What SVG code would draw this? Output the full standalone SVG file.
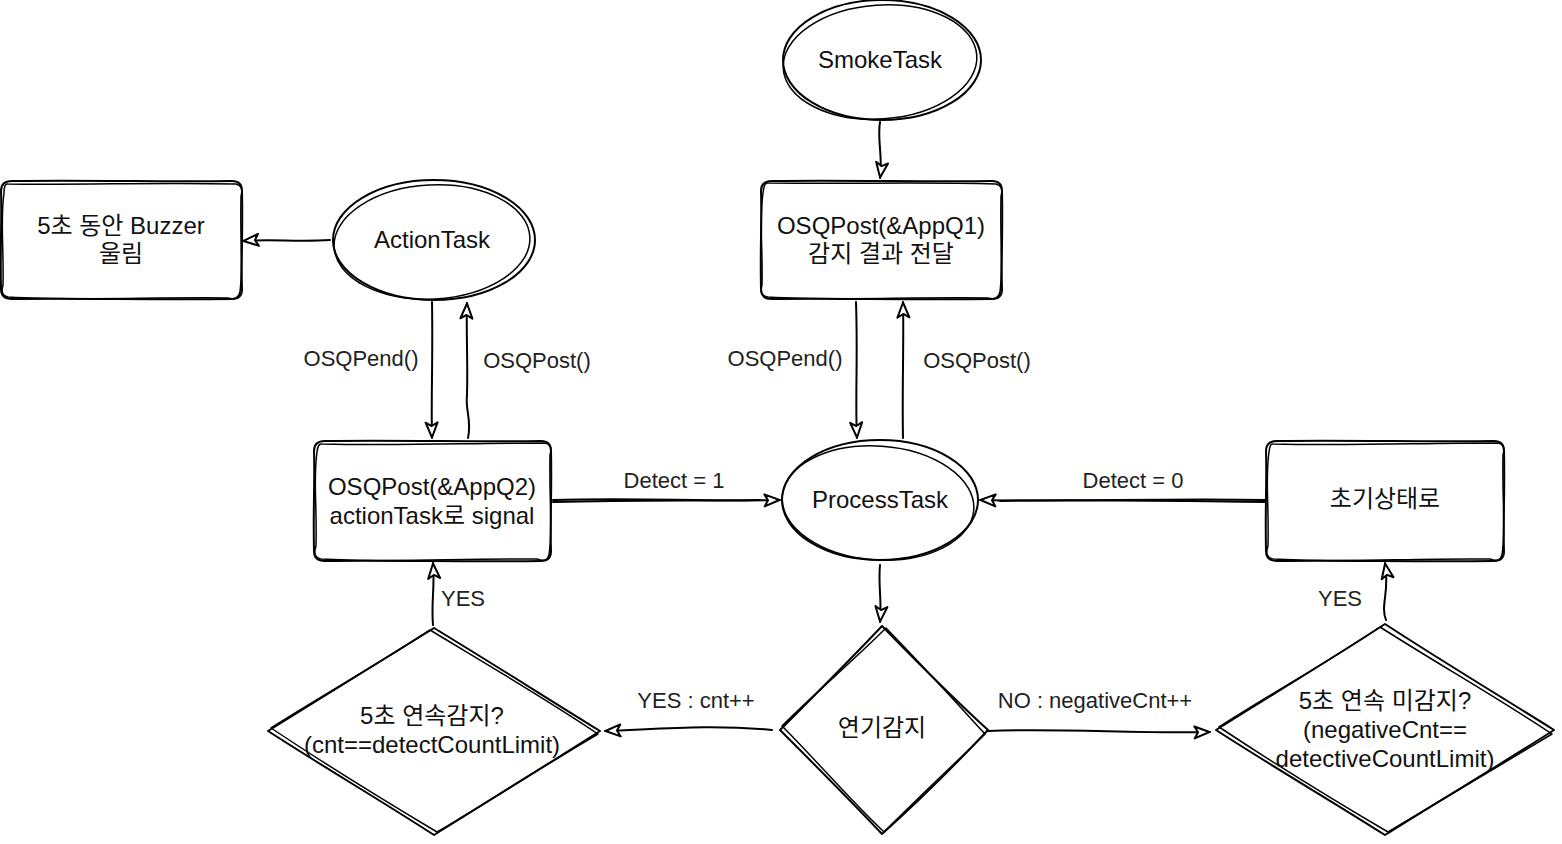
<svg xmlns="http://www.w3.org/2000/svg" width="1562" height="844" viewBox="0 0 1562 844">
<defs>
<style>
.s{fill:none;stroke:#000;stroke-width:2;stroke-linejoin:round;stroke-linecap:round}
.s2{fill:none;stroke:#000;stroke-width:1.5;stroke-linejoin:round;stroke-linecap:round}
.bg{fill:#fff;stroke:none}
.e{fill:none;stroke:#000;stroke-width:2;stroke-linecap:round}
.t{font-family:"Liberation Sans","Noto Sans CJK KR",sans-serif;font-size:24px;fill:#111;text-anchor:middle}
.l{font-family:"Liberation Sans","Noto Sans CJK KR",sans-serif;font-size:22px;fill:#222;text-anchor:middle}
</style>
<marker id="arr" viewBox="0 0 18 16" refX="17" refY="8" markerWidth="18" markerHeight="16" markerUnits="userSpaceOnUse" orient="auto">
<path d="M1.5,2 L16.5,8 L1.5,14 L5,8 Z" fill="#fff" stroke="#000" stroke-width="2" stroke-linejoin="round"/>
</marker>
</defs>
<rect width="1562" height="844" fill="#fff"/>

<g id="connectors">
<path class="e" d="M880,122 C877,140 883,156 880,178" marker-end="url(#arr)"/>
<path class="e" d="M856,302 C858,360 855,400 857,438" marker-end="url(#arr)"/>
<path class="e" d="M903,438 C902,390 904,340 903,302" marker-end="url(#arr)"/>
<path class="e" d="M880,565 C878,585 882,600 880,622" marker-end="url(#arr)"/>
<path class="e" d="M772,730 C710,724 660,729 605,731" marker-end="url(#arr)"/>
<path class="e" d="M433,625 C431,600 435,590 433,563" marker-end="url(#arr)"/>
<path class="e" d="M553,500 C640,497 700,502 780,500" marker-end="url(#arr)"/>
<path class="e" d="M553,502 C640,500 700,501 760,500"/>
<path class="e" d="M468,438 C472,420 465,410 467,395 C468,360 466,330 467,303" marker-end="url(#arr)"/>
<path class="e" d="M432,302 C433,360 431,400 432,438" marker-end="url(#arr)"/>
<path class="e" d="M330,240 C300,242 270,239 243,241" marker-end="url(#arr)"/>
<path class="e" d="M988,731 C1060,728 1140,734 1210,732" marker-end="url(#arr)"/>
<path class="e" d="M1386,620 C1380,605 1390,592 1385,563" marker-end="url(#arr)"/>
<path class="e" d="M1265,500 C1170,498 1060,502 980,500" marker-end="url(#arr)"/>
<path class="e" d="M1265,502 C1170,501 1060,499 1000,501"/>
<text class="l" x="361" y="366">OSQPend()</text>
<text class="l" x="537" y="368">OSQPost()</text>
<text class="l" x="785" y="366">OSQPend()</text>
<text class="l" x="977" y="368">OSQPost()</text>
<text class="l" x="674" y="488">Detect = 1</text>
<text class="l" x="1133" y="488">Detect = 0</text>
<text class="l" x="463" y="606">YES</text>
<text class="l" x="1340" y="606">YES</text>
<text class="l" x="696" y="708">YES : cnt++</text>
<text class="l" x="1095" y="708">NO : negativeCnt++</text>
</g>

<g id="smoketask">
<ellipse class="bg" cx="882" cy="60" rx="99" ry="60"/>
<ellipse class="s" cx="882" cy="60" rx="99" ry="60"/>
<ellipse class="s2" cx="880" cy="62" rx="97" ry="57" transform="rotate(-4 880 62)"/>
<text class="t" x="880" y="68">SmokeTask</text>
</g>

<g id="box-appq1">
<path class="bg" d="M772,181 L992,181 Q1002,181 1002,191 L1002,289 Q1002,299 992,299 L772,299 Q761,299 761,289 L761,191 Q761,181 772,181 Z"/>
<path class="s" d="M772,181 C850,180 930,182 992,181 Q1002,181 1002,191 C1003,230 1001,260 1002,289 Q1002,299 992,299 C900,300 840,298 772,299 Q761,299 761,289 C760,250 762,220 761,191 Q761,181 772,181 Z"/>
<path class="s2" d="M768,183 C860,184 920,182 996,184 Q1004,186 1001,196 C1000,240 1003,270 1000,292 Q998,301 988,298 C900,297 840,301 768,297 Q759,296 762,285 C763,250 759,220 763,193 Q764,182 768,183 Z"/>
<text class="t" x="881" y="234" fill="#333">OSQPost(&amp;AppQ1)</text>
<text class="t" x="881" y="262" fill="#333">감지 결과 전달</text>
</g>

<g id="processtask">
<ellipse class="bg" cx="880" cy="500" rx="98" ry="60"/>
<ellipse class="s" cx="880" cy="500" rx="98" ry="60"/>
<ellipse class="s2" cx="878" cy="503" rx="96" ry="57" transform="rotate(4 878 503)"/>
<text class="t" x="880" y="508">ProcessTask</text>
</g>

<g id="smokedetect">
<path class="bg" d="M882,626 L988,730 L882,834 L780,730 Z"/>
<path class="s" d="M882,626 C920,665 955,700 988,730 C955,765 920,800 882,834 C850,800 815,765 780,730 C815,695 850,660 882,626 Z"/>
<path class="s2" d="M886,628 C925,668 952,698 985,734 C950,768 918,798 884,832 C848,798 818,762 782,726 C818,690 852,662 886,628 Z"/>
<text class="t" x="882" y="736">연기감지</text>
</g>

<g id="detect5s">
<path class="bg" d="M434,628 L600,731 L434,835 L268,731 Z"/>
<path class="s" d="M434,628 C490,662 545,697 600,731 C545,766 490,800 434,835 C380,800 322,766 268,731 C322,697 380,662 434,628 Z"/>
<path class="s2" d="M430,630 C488,665 548,700 598,734 C540,768 488,802 437,832 C380,798 325,764 271,728 C325,694 378,664 430,630 Z"/>
<text class="t" x="432" y="724">5초 연속감지?</text>
<text class="t" x="432" y="753">(cnt==detectCountLimit)</text>
</g>

<g id="box-appq2">
<path class="bg" d="M325,441 L541,441 Q551,441 551,451 L551,551 Q551,561 541,561 L325,561 Q314,561 314,551 L314,451 Q314,441 325,441 Z"/>
<path class="s" d="M325,441 C400,440 480,442 541,441 Q551,441 551,451 C552,490 550,520 551,551 Q551,561 541,561 C460,562 390,560 325,561 Q314,561 314,551 C313,510 315,480 314,451 Q314,441 325,441 Z"/>
<path class="s2" d="M322,444 C400,446 470,443 545,443 Q553,444 550,455 C549,500 553,530 549,555 Q547,563 537,559 C460,558 390,563 321,559 Q312,557 316,546 C317,500 313,480 317,452 Q318,443 322,444 Z"/>
<text class="t" x="432" y="495">OSQPost(&amp;AppQ2)</text>
<text class="t" x="432" y="524">actionTask로 signal</text>
</g>

<g id="actiontask">
<ellipse class="bg" cx="434" cy="240" rx="101" ry="60"/>
<ellipse class="s" cx="434" cy="240" rx="101" ry="60"/>
<ellipse class="s2" cx="432" cy="242" rx="98" ry="57" transform="rotate(-3 432 242)"/>
<text class="t" x="432" y="248">ActionTask</text>
</g>

<g id="buzzer">
<path class="bg" d="M12,181 L232,181 Q242,181 242,191 L242,289 Q242,299 232,299 L12,299 Q1,299 1,289 L1,191 Q1,181 12,181 Z"/>
<path class="s" d="M12,181 C90,180 170,182 232,181 Q242,181 242,191 C243,230 241,260 242,289 Q242,299 232,299 C150,300 80,298 12,299 Q1,299 1,289 C0,250 2,220 1,191 Q1,181 12,181 Z"/>
<path class="s2" d="M8,184 C90,185 160,182 236,184 Q244,186 241,196 C240,240 243,270 240,292 Q238,301 228,298 C150,297 80,301 8,297 Q0,296 3,285 C4,250 0,220 4,193 Q4,183 8,184 Z"/>
<text class="t" x="121" y="234">5초 동안 Buzzer</text>
<text class="t" x="121" y="262">울림</text>
</g>

<g id="reset">
<path class="bg" d="M1277,441 L1494,441 Q1504,441 1504,451 L1504,551 Q1504,561 1494,561 L1277,561 Q1266,561 1266,551 L1266,451 Q1266,441 1277,441 Z"/>
<path class="s" d="M1277,441 C1350,440 1430,442 1494,441 Q1504,441 1504,451 C1505,490 1503,520 1504,551 Q1504,561 1494,561 C1410,562 1340,560 1277,561 Q1266,561 1266,551 C1265,510 1267,480 1266,451 Q1266,441 1277,441 Z"/>
<path class="s2" d="M1273,444 C1350,446 1420,443 1498,443 Q1506,444 1503,455 C1502,500 1506,530 1502,555 Q1500,563 1490,559 C1410,558 1340,563 1273,559 Q1264,557 1268,546 C1269,500 1265,480 1269,452 Q1270,443 1273,444 Z"/>
<text class="t" x="1385" y="507">초기상태로</text>
</g>

<g id="nodetect5s">
<path class="bg" d="M1385,624 L1554,730 L1385,835 L1216,730 Z"/>
<path class="s" d="M1385,624 C1440,660 1500,696 1554,730 C1500,765 1440,800 1385,835 C1330,800 1270,765 1216,730 C1270,696 1330,660 1385,624 Z"/>
<path class="s2" d="M1380,627 C1438,664 1498,698 1552,734 C1496,768 1438,802 1388,832 C1330,798 1272,762 1219,727 C1272,693 1328,662 1380,627 Z"/>
<text class="t" x="1385" y="709">5초 연속 미감지?</text>
<text class="t" x="1385" y="738">(negativeCnt==</text>
<text class="t" x="1385" y="767">detectiveCountLimit)</text>
</g>
</svg>
